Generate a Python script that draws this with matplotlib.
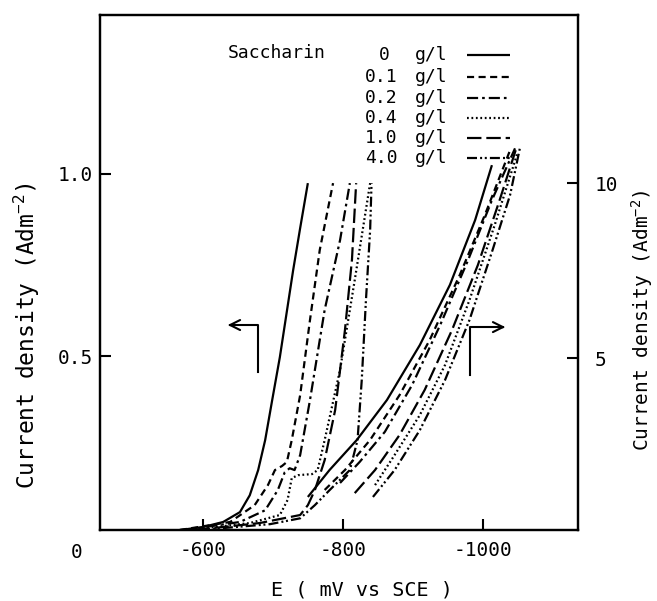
import matplotlib
matplotlib.use("Agg")
import matplotlib.pyplot as plt
from matplotlib.lines import Line2D

plt.rcParams['font.family'] = ['DejaVu Sans Mono', 'DejaVu Sans']
plt.rcParams['mathtext.fontset'] = 'custom'
plt.rcParams['mathtext.rm'] = 'DejaVu Sans Mono'
plt.rcParams['mathtext.it'] = 'DejaVu Sans Mono'
plt.rcParams['mathtext.bf'] = 'DejaVu Sans Mono'

# ---------------- data ----------------
conc_labels = ["0", "0.1", "0.2", "0.4", "1.0", "4.0"]

# Low-current branch (left axis, A dm^-2)
low_x_0 = [-567, -600, -629, -653, -667, -679, -689, -699, -710, -729, -739, -750]
low_y_0 = [0.025, 0.033, 0.047, 0.074, 0.120, 0.189, 0.271, 0.380, 0.498, 0.736, 0.851, 0.974]

low_x_01 = [-567, -639, -674, -693, -703, -713, -720, -727, -739, -753, -767, -786]
low_y_01 = [0.025, 0.047, 0.093, 0.148, 0.189, 0.200, 0.211, 0.271, 0.394, 0.599, 0.791, 0.974]

low_x_02 = [-574, -653, -689, -707, -717, -724, -731, -739, -753, -774, -796, -810]
low_y_02 = [0.025, 0.047, 0.079, 0.134, 0.183, 0.194, 0.189, 0.230, 0.380, 0.627, 0.818, 0.974]

low_x_04 = [-581, -667, -710, -721, -727, -736, -756, -764, -774, -796, -817, -839]
low_y_04 = [0.025, 0.044, 0.066, 0.107, 0.167, 0.175, 0.178, 0.189, 0.271, 0.463, 0.709, 0.974]

low_x_10 = [-589, -681, -739, -750, -760, -774, -789, -803, -813, -819]
low_y_10 = [0.025, 0.044, 0.066, 0.093, 0.134, 0.216, 0.353, 0.572, 0.764, 0.974]

low_x_40 = [-596, -696, -739, -760, -781, -810, -821, -827, -833, -839, -841]
low_y_40 = [0.025, 0.041, 0.057, 0.093, 0.134, 0.189, 0.271, 0.435, 0.654, 0.846, 0.974]

# High-current branch (right axis, A dm^-2)
high_x_0 = [-750, -781, -820, -863, -910, -953, -989, -1013]
high_y_0 = [1.03, 1.80, 2.66, 3.80, 5.37, 7.09, 8.94, 10.51]

high_x_01 = [-774, -803, -839, -881, -924, -967, -1003, -1039]
high_y_01 = [1.23, 1.80, 2.66, 3.94, 5.51, 7.37, 9.09, 10.94]

high_x_02 = [-796, -824, -860, -899, -939, -979, -1013, -1046]
high_y_02 = [1.43, 2.03, 2.89, 4.23, 5.94, 7.80, 9.51, 10.99]

high_x_04 = [-846, -874, -910, -946, -981, -1017, -1050]
high_y_04 = [1.37, 2.23, 3.37, 4.80, 6.66, 8.80, 10.89]

high_x_10 = [-817, -846, -881, -917, -956, -993, -1024, -1047]
high_y_10 = [1.14, 1.80, 2.80, 4.09, 5.80, 7.66, 9.51, 10.94]

high_x_40 = [-843, -874, -910, -946, -981, -1014, -1039, -1053]
high_y_40 = [1.03, 1.80, 2.94, 4.37, 6.09, 8.09, 9.66, 11.00]

low_x = [low_x_0, low_x_01, low_x_02, low_x_04, low_x_10, low_x_40]
low_y = [low_y_0, low_y_01, low_y_02, low_y_04, low_y_10, low_y_40]
high_x = [high_x_0, high_x_01, high_x_02, high_x_04, high_x_10, high_x_40]
high_y = [high_y_0, high_y_01, high_y_02, high_y_04, high_y_10, high_y_40]

x_ticks = [-600, -800, -1000]
left_ticks = [0.5, 1.0]
left_ticklabels = ["0.5", "1.0"]
right_ticks = [5, 10]
right_ticklabels = ["5", "10"]

# ---------------- style ----------------
dash_styles = [
    (0, ()),
    (0, (3.2, 2.0)),
    (0, (5.0, 1.8, 1.2, 1.8)),
    (0, (0.8, 1.2)),
    (0, (6.5, 2.2)),
    (0, (4.5, 1.4, 0.9, 1.2, 0.9, 1.4)),
]
lw = 1.6

fig = plt.figure(figsize=(6.57, 6.01), dpi=100)
ax = fig.add_axes([100/657, 1-530/601, 478/657, 515/601])
ax2 = ax.twinx()

for xs, ys, ls in zip(low_x, low_y, dash_styles):
    ax.plot(xs, ys, color='black', lw=lw, linestyle=ls)
for xs, ys, ls in zip(high_x, high_y, dash_styles):
    ax2.plot(xs, ys, color='black', lw=lw, linestyle=ls)

ax.set_xlim(-453, -1136)
ax.set_ylim(0.025, 1.434)
ax2.set_ylim(0.086, 14.8)

ax.set_xticks(x_ticks)
ax.set_xticklabels([str(v) for v in x_ticks], fontsize=14)
ax.set_yticks(left_ticks)
ax.set_yticklabels(left_ticklabels, fontsize=14)
ax2.set_yticks(right_ticks)
ax2.set_yticklabels(right_ticklabels, fontsize=14)

ax.tick_params(axis='x', direction='in', length=8, width=1.5, pad=8)
ax.tick_params(axis='y', direction='in', length=8, width=1.5, pad=5)
ax2.tick_params(axis='y', direction='in', length=8, width=1.5, pad=12)
for a in (ax, ax2):
    for sp in a.spines.values():
        sp.set_linewidth(1.6)

# corner zero label
fig.text(77/657, 1-552/601, "0", fontsize=14, ha='center', va='center')

# axis labels
fig.text(362/657, 1-590/601, "E ( mV vs SCE )", fontsize=14.5, ha='center', va='center')
fig.text(27/657, 1-336/601, "Current density (Adm$^{-2}$)", fontsize=16.5,
         rotation=90, ha='center', va='center')
fig.text(642/657, 1-320/601, "Current density (Adm$^{-2}$)", fontsize=14,
         rotation=90, ha='center', va='center')

# legend (manual)
ta = ax.transAxes
ax.text(0.268, 0.926, "Saccharin", transform=ta, fontsize=13, ha='left', va='center')
row_y = [0.922, 0.880, 0.839, 0.800, 0.761, 0.722]
for i, (lab, ls, ry) in enumerate(zip(conc_labels, dash_styles, row_y)):
    if i == 0:
        ax.text(0.594, ry, lab, transform=ta, fontsize=13, ha='center', va='center')
    else:
        ax.text(0.623, ry, lab, transform=ta, fontsize=13, ha='right', va='center')
    ax.text(0.659, ry, "g/l", transform=ta, fontsize=13, ha='left', va='center')
    ax.add_line(Line2D([0.768, 0.858], [ry, ry], transform=ta, color='black',
                       lw=lw, linestyle=ls))

# arrows indicating which axis each branch uses
ax.add_line(Line2D([0.3305, 0.3305, 0.275], [0.3068, 0.398, 0.398], transform=ta,
                   color='black', lw=1.5))
ax.annotate("", xy=(0.2615, 0.398), xytext=(0.28, 0.398), xycoords=ta, textcoords=ta,
            arrowprops=dict(arrowstyle='->', lw=1.5, color='black', mutation_scale=18))
ax.add_line(Line2D([0.774, 0.774, 0.84], [0.301, 0.394, 0.394], transform=ta,
                   color='black', lw=1.5))
ax.annotate("", xy=(0.8536, 0.394), xytext=(0.835, 0.394), xycoords=ta, textcoords=ta,
            arrowprops=dict(arrowstyle='->', lw=1.5, color='black', mutation_scale=18))

fig.savefig("out.png", dpi=100)
